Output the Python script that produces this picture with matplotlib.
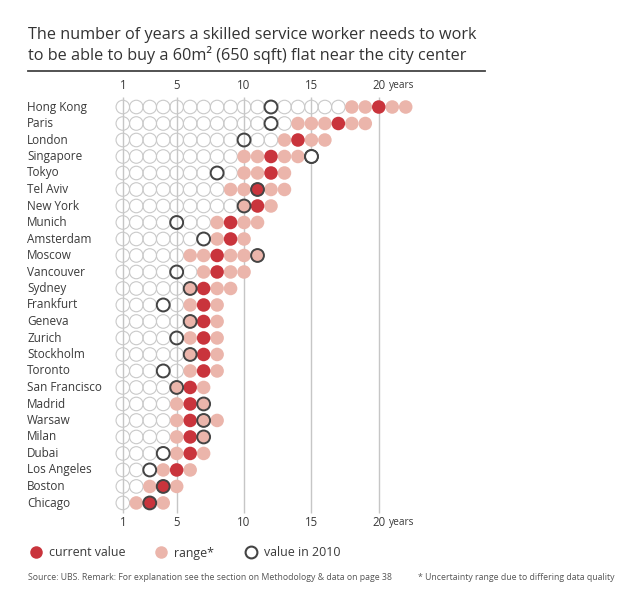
import matplotlib.pyplot as plt
from matplotlib.lines import Line2D

plt.rcParams['font.family'] = ['Open Sans', 'DejaVu Sans']

cities = ['Hong Kong', 'Paris', 'London', 'Singapore', 'Tokyo', 'Tel Aviv',
          'New York', 'Munich', 'Amsterdam', 'Moscow', 'Vancouver', 'Sydney',
          'Frankfurt', 'Geneva', 'Zurich', 'Stockholm', 'Toronto',
          'San Francisco', 'Madrid', 'Warsaw', 'Milan', 'Dubai',
          'Los Angeles', 'Boston', 'Chicago']
current = [20, 17, 14, 12, 12, 11, 11, 9, 9, 8, 8, 7, 7, 7, 7, 7, 7,
           6, 6, 6, 6, 6, 5, 4, 3]
range_lo = [18, 14, 13, 10, 10, 9, 10, 8, 8, 6, 7, 6, 6, 6, 6, 6, 6,
            5, 5, 5, 5, 5, 4, 3, 2]
range_hi = [22, 19, 16, 14, 13, 13, 12, 11, 10, 11, 10, 9, 8, 8, 8, 8, 8,
            7, 7, 8, 7, 7, 6, 5, 4]
value_2010 = [12, 12, 10, 15, 8, 11, 10, 5, 7, 11, 5, 6, 4, 6, 5, 6, 4,
              5, 7, 7, 7, 4, 3, 4, 3]
grid_years = [1, 5, 10, 15, 20]

RED = '#c9343c'
PINK = '#ebb5ab'
EMPTY = '#c9c9c9'
RING = '#444444'
TXT = '#3a3a3a'

fig = plt.figure(figsize=(6.4, 6.11), dpi=100)
W, H = 640, 611
# axes from px x 100..460, y 75..530
ax = fig.add_axes([100 / W, 1 - 530 / H, 360 / W, 455 / H])
ax.set_xlim(-0.693, 26.03)
ax.set_ylim(25.64, -1.94)
ax.axis('off')

ax.vlines(grid_years, -0.6, 24.6, color='#c6c6c6', lw=1.0, zorder=1)

S = 95
ex, ey, px, py, cx, cy = [], [], [], [], [], []
for i in range(len(cities)):
    for yr in range(1, range_lo[i]):
        ex.append(yr)
        ey.append(i)
    for yr in range(range_lo[i], range_hi[i] + 1):
        if yr != current[i]:
            px.append(yr)
            py.append(i)
    cx.append(current[i])
    cy.append(i)

ax.scatter(ex, ey, s=S, facecolor='none', edgecolor=EMPTY, lw=0.8, zorder=2)
ax.scatter(px, py, s=S, facecolor=PINK, edgecolor='none', zorder=3)
ax.scatter(cx, cy, s=S, facecolor=RED, edgecolor='none', zorder=4)
ax.scatter(value_2010, range(len(cities)), s=S * 0.9, facecolor='none',
           edgecolor=RING, lw=1.4, zorder=5)
# white fill for 2010 rings outside the drawn circles
for i, v in enumerate(value_2010):
    if v > range_hi[i]:
        ax.scatter([v], [i], s=S * 0.9, facecolor='white', edgecolor=RING,
                   lw=1.4, zorder=5)

for i, c in enumerate(cities):
    fig.text(27 / W, 1 - (107 + 16.5 * i) / H, c, fontsize=8.5, color=TXT,
             ha='left', va='center')

for yv in (-1.33, 25.2):
    for g in grid_years:
        ax.text(g, yv, str(g), fontsize=8.3, color=TXT, ha='center',
                va='center')
    ax.annotate('years', xy=(20, yv), xytext=(7, 0), textcoords='offset points',
                fontsize=7.3, color=TXT, ha='left', va='center')

fig.text(28 / W, 1 - 27 / H,
         'The number of years a skilled service worker needs to work\n'
         'to be able to buy a 60m\u00b2 (650 sqft) flat near the city center',
         fontsize=11.7, color='#333333', ha='left', va='top', linespacing=1.2,
         family=['Liberation Sans Narrow', 'Open Sans'])
fig.add_artist(Line2D([28 / W, 485 / W], [1 - 71 / H, 1 - 71 / H],
                      color='#444444', lw=1.3))

handles = [
    Line2D([], [], marker='o', ls='none', ms=9, mfc=RED, mec='none'),
    Line2D([], [], marker='o', ls='none', ms=9, mfc=PINK, mec='none'),
    Line2D([], [], marker='o', ls='none', ms=8.5, mfc='white', mec=RING,
           mew=1.5),
]
fig.legend(handles, ['current value', 'range*', 'value in 2010'],
           loc='center left', bbox_to_anchor=(17 / W, 1 - 553 / H), ncol=3,
           frameon=False, fontsize=8.9, handletextpad=0.45,
           columnspacing=2.35, labelcolor=TXT, handlelength=1.2)

fig.text(28 / W, 1 - 578 / H,
         'Source: UBS. Remark: For explanation see the section on '
         'Methodology & data on page 38',
         fontsize=6.3, color='#555555', ha='left', va='center')
fig.text(418 / W, 1 - 578 / H,
         '* Uncertainty range due to differing data quality',
         fontsize=6.3, color='#555555', ha='left', va='center')

fig.savefig('out.png', dpi=100, facecolor='white')
